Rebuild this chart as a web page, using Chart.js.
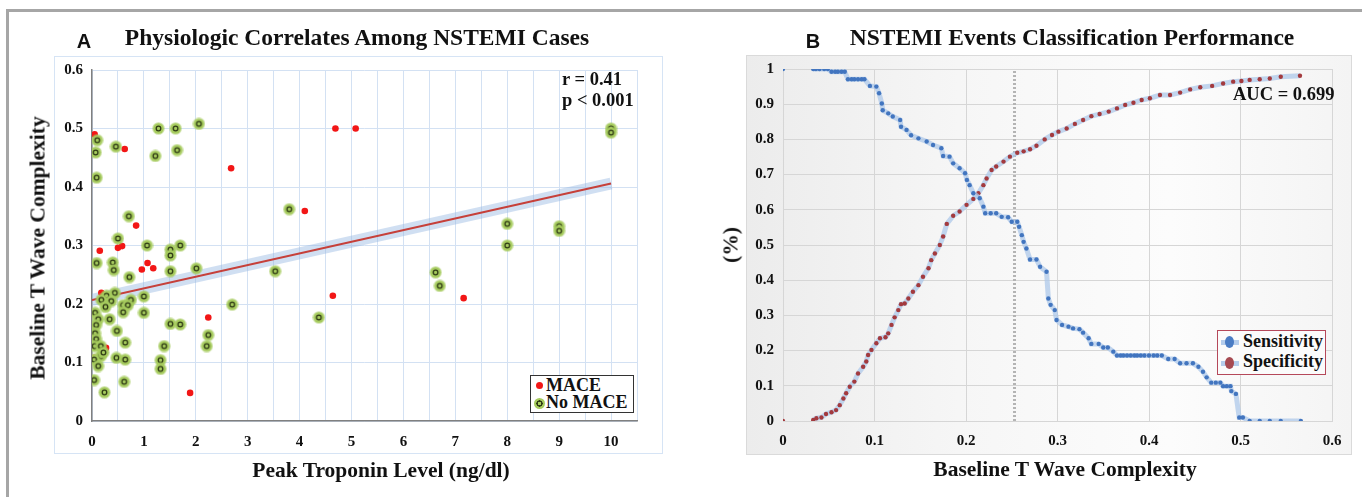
<!DOCTYPE html>
<html>
<head>
<meta charset="utf-8">
<script src="https://cdn.jsdelivr.net/npm/chart.js@4.4.1/dist/chart.umd.min.js"></script>
<style>
  html, body { margin: 0; padding: 0; background: #fff; }
  body { width: 1362px; height: 497px; position: relative; overflow: hidden; font-family: "Liberation Serif", serif; color: #111; }
  .abs { position: absolute; }
  .frameTop { left: 6px; top: 9px; width: 1356px; height: 3px; background: #a6a6a6; }
  .frameLeft { left: 6px; top: 9px; width: 3px; height: 488px; background: #a6a6a6; }
  .boxA { left: 54px; top: 56px; width: 607px; height: 396px; border: 1px solid #d6e4f5; background: #fff; }
  .boxB { left: 746px; top: 55px; width: 604px; height: 398px; border: 1px solid #dadada;
          background: linear-gradient(90deg, #ececec 0%, #f6f6f6 35%, #fcfcfc 70%, #f4f4f4 100%); }
  .c { transform: translate(-50%, -50%); white-space: nowrap; font-weight: bold; }
  .title { font-size: 23.5px; }
  .letter { font-family: "Liberation Sans", sans-serif; font-size: 20px; }
  .axt { font-size: 21.5px; }
  .rot { transform: translate(-50%, -50%) rotate(-90deg); }
  .note { font-weight: bold; font-size: 18.5px; line-height: 21px; white-space: nowrap; }
  .legA { left: 530px; top: 375px; width: 102px; height: 36px; border: 1px solid #333; background: #fff; }
  .legB { left: 1217px; top: 330px; width: 107px; height: 43px; border: 1px solid #b5485a; background: #fbfbfb; }
  .row { position: absolute; left: 0; font-weight: bold; white-space: nowrap; font-size: 18px; }
  .dotRed { position: absolute; width: 7px; height: 7px; border-radius: 50%; background: #f21616; }
  .dotGreen { position: absolute; width: 11px; height: 11px; border-radius: 50%;
              background: radial-gradient(circle, #a6cb5e 0 1.5px, #2e3a14 1.8px 3px, #a6cb5e 3.3px); }
  .band { position: absolute; width: 18px; height: 5px; background: rgba(173,200,234,0.9); }
  .oval { position: absolute; width: 9px; height: 12px; border-radius: 50%; }
  canvas { position: absolute; top: 0; }
</style>
</head>
<body>
<div class="abs frameTop"></div>
<div class="abs frameLeft"></div>
<div class="abs boxA"></div>
<div class="abs boxB"></div>

<canvas id="chartA" width="680" height="497" style="left:0"></canvas>
<canvas id="chartB" width="682" height="497" style="left:680px"></canvas>

<div class="abs c letter" style="left:84px; top:41px">A</div>
<div class="abs c title" style="left:357px; top:37px">Physiologic Correlates Among NSTEMI Cases</div>
<div class="abs c letter" style="left:813px; top:41px">B</div>
<div class="abs c title" style="left:1072px; top:37px">NSTEMI Events Classification Performance</div>

<div class="abs axt rot" style="left:38px; top:248px; font-weight:bold; white-space:nowrap">Baseline T Wave Complexity</div>
<div class="abs c axt" style="left:381px; top:470px">Peak Troponin Level (ng/dl)</div>
<div class="abs axt rot" style="left:731px; top:245px; font-weight:bold; white-space:nowrap">(%)</div>
<div class="abs c axt" style="left:1065px; top:469px">Baseline T Wave Complexity</div>

<div class="abs note" style="left:562px; top:69px">r = 0.41<br>p &lt; 0.001</div>
<div class="abs note" style="left:1233px; top:84px">AUC = 0.699</div>

<div class="abs legA">
  <span class="dotRed" style="left:5px; top:6px"></span>
  <span class="row" style="left:15px; top:-1px">MACE</span>
  <span class="dotGreen" style="left:3px; top:22px"></span>
  <span class="row" style="left:15px; top:16px">No MACE</span>
</div>
<div class="abs legB">
  <span class="band" style="left:3px; top:9px"></span>
  <span class="oval" style="left:7px; top:5px; background:#4a7cc4"></span>
  <span class="row" style="left:25px; top:0px">Sensitivity</span>
  <span class="band" style="left:3px; top:30px"></span>
  <span class="oval" style="left:7px; top:26px; background:#a64a52"></span>
  <span class="row" style="left:25px; top:20px">Specificity</span>
</div>

<script>
'use strict';

/* DATA: panel A */

const maceX = [0.05, 0.63, 2.68, 4.10, 4.69, 5.08, 0.85, 0.15, 0.50, 0.58, 0.18, 0.96, 1.07, 1.18, 0.27, 2.24, 1.89, 4.64, 7.16, 0.04];
const maceY = [0.490, 0.465, 0.432, 0.359, 0.500, 0.500, 0.334, 0.291, 0.296, 0.299, 0.219, 0.259, 0.270, 0.261, 0.125, 0.177, 0.048, 0.214, 0.210, 0.108];

const noMaceX = [0.10, 0.07, 0.09, 0.46, 1.28, 1.61, 1.22, 1.64, 2.06, 0.71, 3.80, 10, 10, 8, 8, 9, 9, 6.62, 6.70,
  0.50, 0.09, 1.06, 1.51, 1.51, 1.70, 0.40, 0.42, 0.72, 1.51, 2.01, 3.53, 0.44, 0.28, 0.37, 0.18, 0.26, 0.75, 0.60, 0.69,
  0.60, 1.00, 1.00, 2.70, 0.06, 0.12, 0.34, 0.08, 0.06, 0.08, 0.05, 0.17, 0.48, 0.64, 0.17, 0.22, 0.04, 0.47, 0.64, 0.12,
  0.04, 0.62, 0.24, 1.51, 1.70, 1.39, 1.32, 1.32, 2.24, 2.21, 4.37];
const noMaceY = [0.480, 0.459, 0.416, 0.469, 0.500, 0.500, 0.453, 0.463, 0.508, 0.350, 0.362, 0.500, 0.493, 0.337, 0.300, 0.333, 0.325, 0.254, 0.231,
  0.312, 0.270, 0.300, 0.293, 0.283, 0.300, 0.271, 0.258, 0.246, 0.256, 0.261, 0.256, 0.219, 0.214, 0.205, 0.207, 0.195, 0.207, 0.198, 0.198,
  0.186, 0.213, 0.185, 0.199, 0.185, 0.174, 0.174, 0.164, 0.150, 0.140, 0.128, 0.128, 0.154, 0.134, 0.111, 0.117, 0.105, 0.108, 0.105, 0.094,
  0.070, 0.067, 0.049, 0.166, 0.165, 0.128, 0.104, 0.089, 0.147, 0.128, 0.177];

const trendX = [0, 10];
const trendY = [0.207, 0.406];

/* DATA: panel B */

const sensX = [0, 0.033, 0.036, 0.040, 0.045, 0.049, 0.053, 0.057, 0.060, 0.064, 0.0675, 0.071, 0.075, 0.078, 0.082, 0.086, 0.089,
  0.095, 0.102, 0.105, 0.108, 0.109, 0.115, 0.120, 0.128, 0.129, 0.135, 0.140, 0.148, 0.157, 0.164, 0.173, 0.175, 0.182, 0.186,
  0.193, 0.199, 0.201, 0.204, 0.208, 0.215, 0.219, 0.221, 0.227, 0.233, 0.239, 0.246, 0.250, 0.256, 0.258, 0.261, 0.263, 0.266,
  0.270, 0.277, 0.281, 0.288, 0.290, 0.2925, 0.297, 0.299, 0.305, 0.312, 0.317, 0.324, 0.328, 0.334, 0.337, 0.345, 0.350, 0.355,
  0.361, 0.365, 0.369, 0.372, 0.376, 0.380, 0.384, 0.387, 0.391, 0.395, 0.400, 0.405, 0.409, 0.414, 0.421, 0.428, 0.434, 0.441,
  0.448, 0.454, 0.459, 0.463, 0.468, 0.473, 0.478, 0.481, 0.485, 0.489, 0.490, 0.495, 0.4986, 0.5026, 0.510, 0.521, 0.532, 0.544, 0.566];
const sensY = [1, 1, 1, 1, 1, 1, 0.992, 0.992, 0.992, 0.992, 0.992, 0.971, 0.971, 0.971, 0.971, 0.971, 0.971,
  0.952, 0.950, 0.931, 0.902, 0.883, 0.874, 0.865, 0.855, 0.836, 0.827, 0.812, 0.803, 0.794, 0.784, 0.775, 0.753, 0.751, 0.732,
  0.718, 0.704, 0.685, 0.670, 0.647, 0.633, 0.609, 0.590, 0.590, 0.590, 0.580, 0.579, 0.566, 0.566, 0.552, 0.528, 0.509, 0.490,
  0.459, 0.459, 0.438, 0.424, 0.348, 0.330, 0.315, 0.287, 0.273, 0.268, 0.263, 0.261, 0.251, 0.235, 0.219, 0.219, 0.209, 0.209,
  0.197, 0.186, 0.186, 0.186, 0.186, 0.186, 0.186, 0.186, 0.186, 0.186, 0.186, 0.186, 0.186, 0.186, 0.176, 0.176, 0.164, 0.164,
  0.164, 0.154, 0.140, 0.124, 0.109, 0.109, 0.109, 0.099, 0.099, 0.099, 0.085, 0.077, 0.010, 0.010, 0, 0, 0, 0, 0];

const specX = [0, 0.033, 0.0365, 0.042, 0.047, 0.053, 0.058, 0.062, 0.066, 0.069, 0.073, 0.078, 0.082, 0.0876, 0.091, 0.093,
  0.0967, 0.102, 0.106, 0.112, 0.115, 0.1186, 0.122, 0.126, 0.129, 0.133, 0.137, 0.142, 0.148, 0.153, 0.159, 0.162, 0.166,
  0.1714, 0.175, 0.179, 0.186, 0.193, 0.2006, 0.208, 0.2135, 0.219, 0.2225, 0.228, 0.233, 0.241, 0.248, 0.256, 0.263, 0.270,
  0.277, 0.286, 0.294, 0.301, 0.310, 0.319, 0.328, 0.337, 0.346, 0.356, 0.365, 0.374, 0.383, 0.392, 0.401, 0.412, 0.423,
  0.434, 0.445, 0.456, 0.469, 0.481, 0.492, 0.501, 0.510, 0.521, 0.532, 0.544, 0.565];
const specY = [0, 0.003, 0.008, 0.010, 0.020, 0.025, 0.031, 0.045, 0.064, 0.079, 0.0975, 0.112, 0.135, 0.154, 0.169, 0.1875,
  0.202, 0.221, 0.235, 0.238, 0.249, 0.273, 0.2945, 0.315, 0.332, 0.334, 0.348, 0.367, 0.386, 0.410, 0.434, 0.457, 0.476,
  0.500, 0.524, 0.560, 0.583, 0.595, 0.614, 0.631, 0.647, 0.670, 0.689, 0.713, 0.723, 0.737, 0.751, 0.762, 0.766, 0.772,
  0.782, 0.800, 0.8125, 0.822, 0.831, 0.844, 0.855, 0.866, 0.872, 0.879, 0.888, 0.898, 0.904, 0.912, 0.917, 0.926, 0.926,
  0.933, 0.942, 0.948, 0.952, 0.959, 0.964, 0.966, 0.969, 0.971, 0.973, 0.978, 0.981];

const cutoffX = [0.253, 0.253];
const cutoffY = [0, 1];

/* HELPERS */

function zip(xs, ys) {
  return xs.map(function(x, i) { return { x: x, y: ys[i] }; });
}

function fmt(v) {
  return String(Math.round(v * 10) / 10);
}

const serif = 'Liberation Serif';
const tickFont = { family: serif, weight: 'bold', size: 15 };

// no band between the lone point at x = 0 and the rest of the curve
const skipFirst = { borderColor: function(ctx) { return ctx.p0DataIndex === 0 ? 'transparent' : undefined; } };

// green ringed marker used for "No MACE"
const greenDot = document.createElement('canvas');
greenDot.width = 13;
greenDot.height = 13;
(function() {
  const g = greenDot.getContext('2d');
  g.fillStyle = 'rgba(166,203,94,0.55)';
  g.beginPath(); g.arc(6.5, 6.5, 6.3, 0, Math.PI * 2); g.fill();
  g.fillStyle = '#a6cb5e';
  g.beginPath(); g.arc(6.5, 6.5, 5.2, 0, Math.PI * 2); g.fill();
  g.strokeStyle = '#2e3a14';
  g.lineWidth = 1.3;
  g.beginPath(); g.arc(6.5, 6.5, 2.3, 0, Math.PI * 2); g.stroke();
})();

/* PANEL A */

new Chart(document.getElementById('chartA'), {
  type: 'scatter',
  data: {
    datasets: [
      {
        label: 'No MACE',
        data: zip(noMaceX, noMaceY),
        pointStyle: greenDot,
        pointRadius: 6,
      },
      {
        label: 'MACE',
        data: zip(maceX, maceY),
        pointStyle: 'circle',
        pointRadius: 3.3,
        backgroundColor: '#f21616',
        borderWidth: 0,
      },
      {
        type: 'line',
        data: zip(trendX, trendY),
        borderColor: '#c6403a',
        borderWidth: 2,
        pointRadius: 0,
      },
      {
        type: 'line',
        data: zip(trendX, trendY),
        borderColor: 'rgba(150,183,226,0.45)',
        borderWidth: 12,
        pointRadius: 0,
      }
    ]
  },
  options: {
    responsive: false,
    animation: false,
    layout: { padding: { left: 0, top: 70, right: 43, bottom: 0 } },
    plugins: { legend: { display: false }, tooltip: { enabled: false } },
    scales: {
      x: {
        type: 'linear',
        min: 0,
        max: 10.5,
        afterFit: function(s) { s.height = 76; },
        grid: { color: '#d3e1f3', drawTicks: false },
        border: { color: '#808080', width: 1.5 },
        ticks: {
          stepSize: 0.5,
          padding: 12,
          color: '#111',
          font: tickFont,
          maxRotation: 0,
          autoSkip: false,
          callback: function(v) { return Math.abs(v - Math.round(v)) < 1e-9 ? String(Math.round(v)) : ''; }
        }
      },
      y: {
        min: 0,
        max: 0.6,
        afterFit: function(s) { s.width = 92; },
        grid: { color: '#d3e1f3', drawTicks: false },
        border: { color: '#808080', width: 1.5 },
        ticks: { stepSize: 0.1, padding: 9, color: '#111', font: tickFont, callback: fmt }
      }
    }
  }
});

/* PANEL B */

new Chart(document.getElementById('chartB'), {
  type: 'scatter',
  data: {
    datasets: [
      {
        label: 'Sensitivity',
        data: zip(sensX, sensY),
        showLine: true,
        segment: skipFirst,
        borderColor: 'rgba(173,200,234,0.75)',
        borderWidth: 5,
        pointRadius: 2.2,
        pointBackgroundColor: '#4275bf',
        pointBorderWidth: 0,
      },
      {
        label: 'Specificity',
        data: zip(specX, specY),
        showLine: true,
        segment: skipFirst,
        borderColor: 'rgba(173,200,234,0.75)',
        borderWidth: 5,
        pointRadius: 2.2,
        pointBackgroundColor: '#a33a3e',
        pointBorderWidth: 0,
      },
      {
        label: 'cutoff',
        data: zip(cutoffX, cutoffY),
        showLine: true,
        borderColor: '#b4b4b4',
        borderWidth: 3,
        borderDash: [2, 2],
        pointRadius: 0,
      }
    ]
  },
  options: {
    responsive: false,
    animation: false,
    layout: { padding: { left: 0, top: 69, right: 30, bottom: 0 } },
    plugins: { legend: { display: false }, tooltip: { enabled: false } },
    scales: {
      x: {
        type: 'linear',
        min: 0,
        max: 0.6,
        afterFit: function(s) { s.height = 76; },
        grid: { color: '#d6d6d6', drawTicks: false },
        border: { color: '#d6d6d6' },
        ticks: { stepSize: 0.1, padding: 11, color: '#111', font: tickFont, maxRotation: 0, callback: fmt }
      },
      y: {
        min: 0,
        max: 1,
        afterFit: function(s) { s.width = 103; },
        grid: { color: '#d6d6d6', drawTicks: false },
        border: { color: '#d6d6d6' },
        ticks: { stepSize: 0.1, padding: 9, color: '#111', font: tickFont, callback: fmt }
      }
    }
  }
});
</script>
</body>
</html>
